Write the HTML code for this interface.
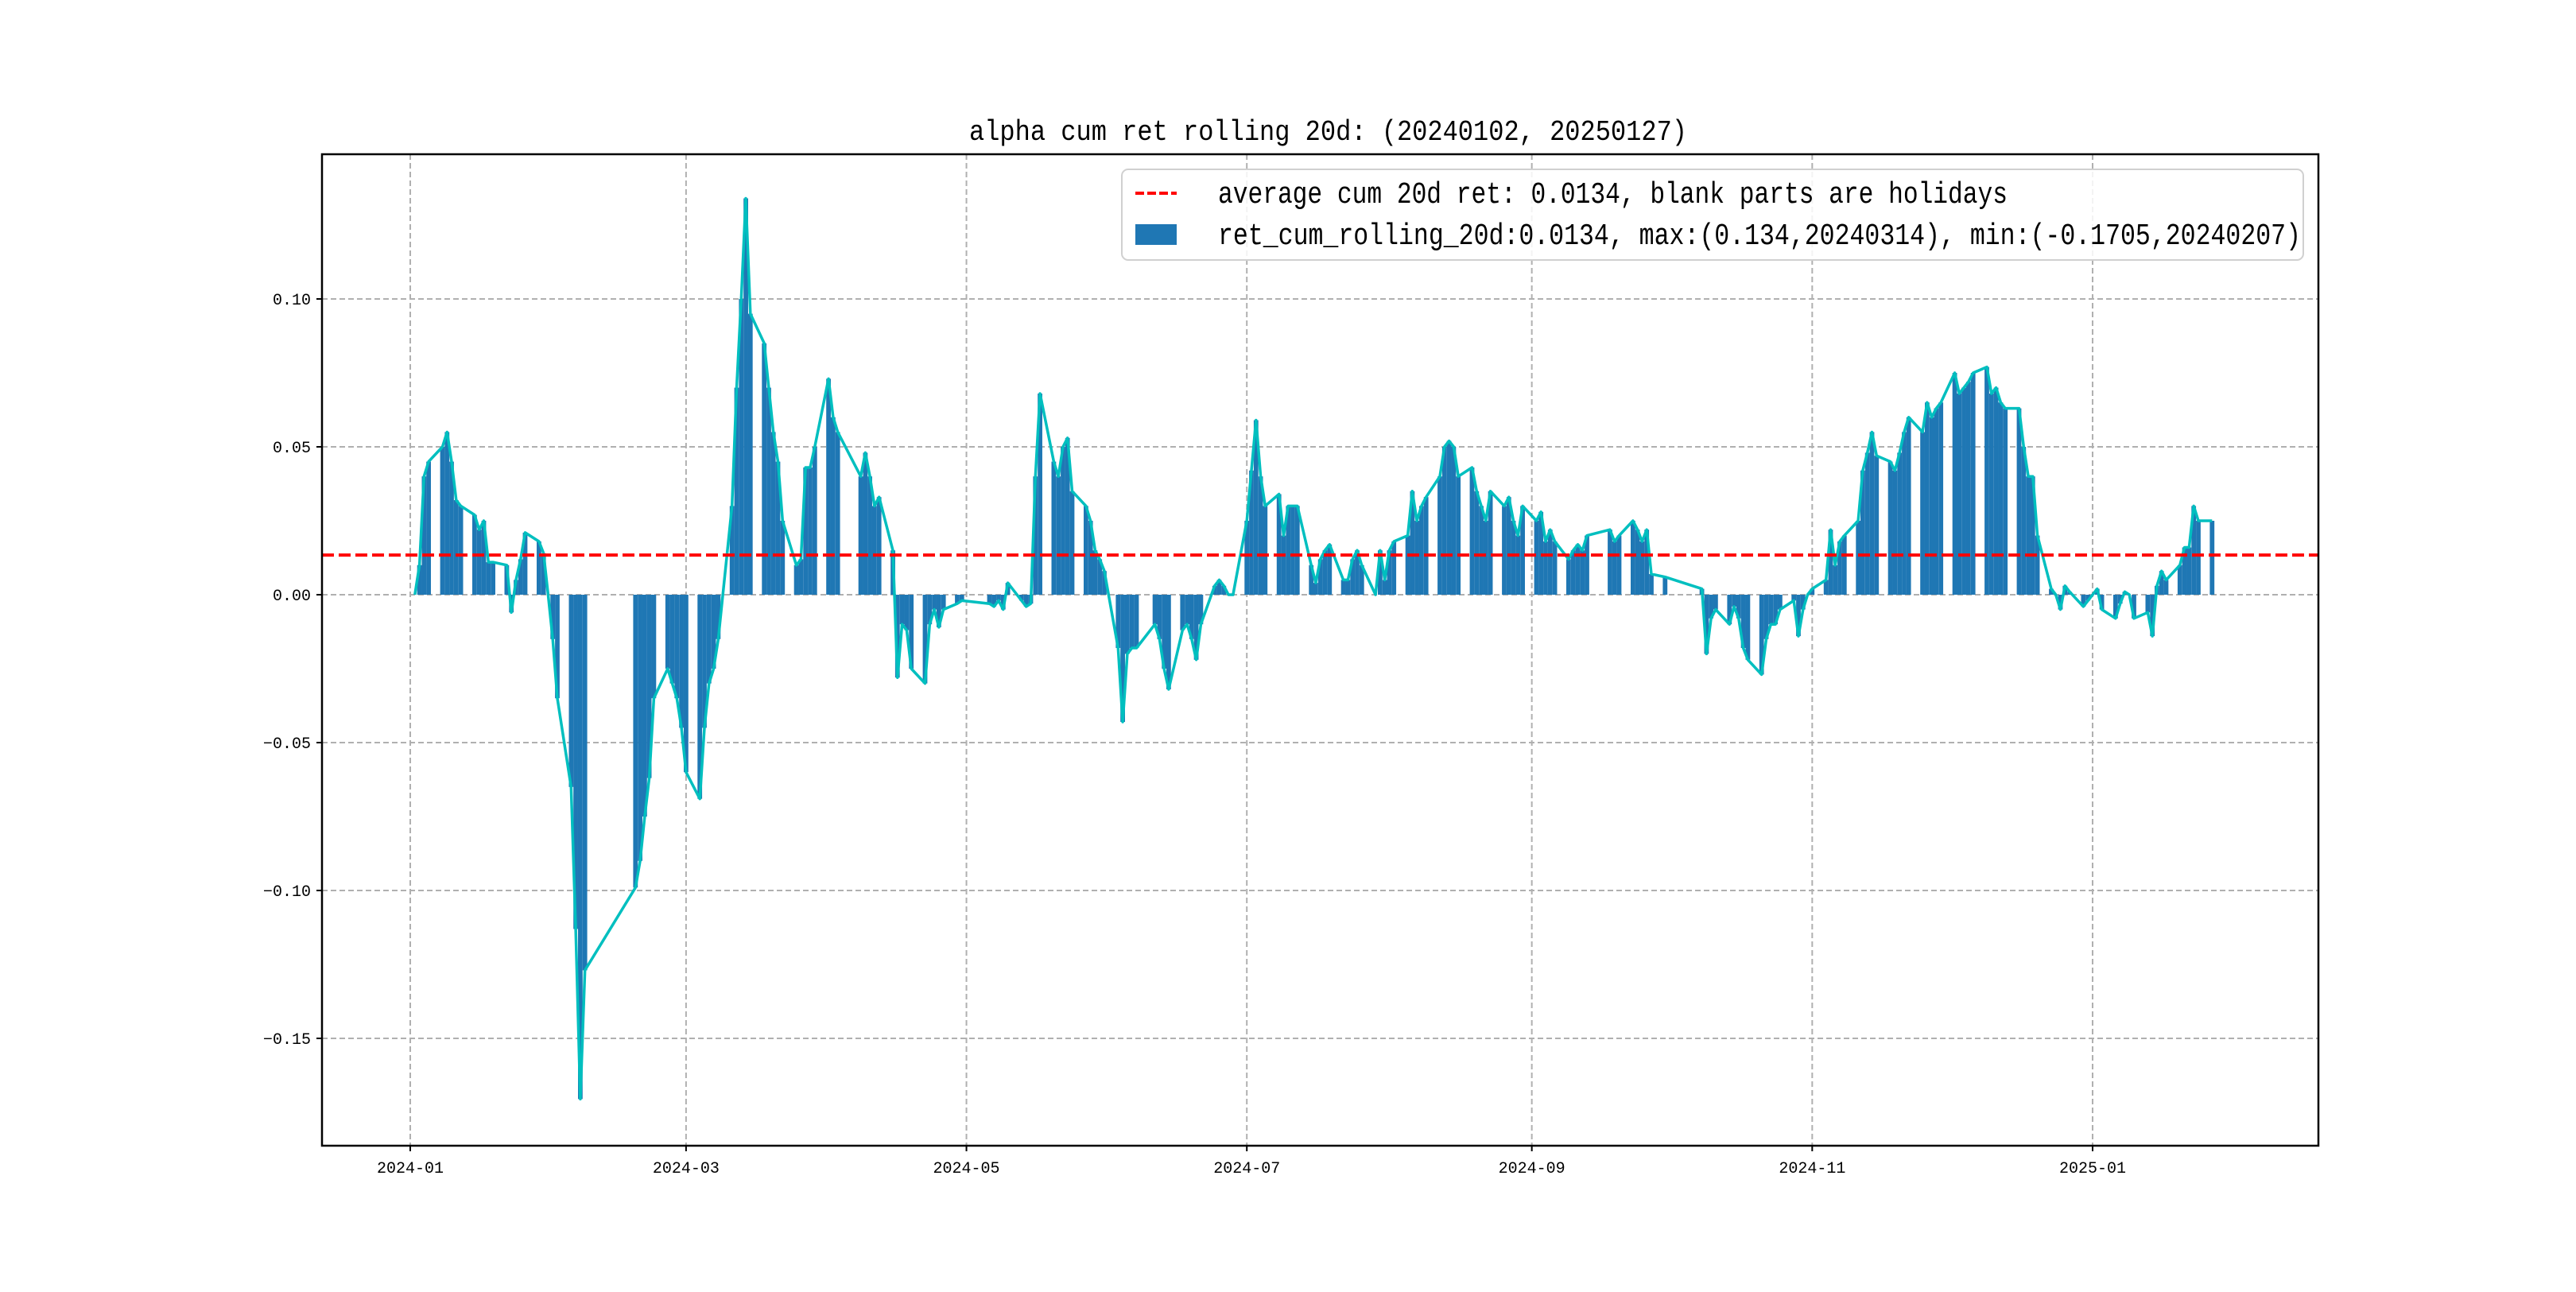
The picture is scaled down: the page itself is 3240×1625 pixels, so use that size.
<!DOCTYPE html>
<html><head><meta charset="utf-8"><style>
html,body{margin:0;padding:0;background:#fff;}
svg text{font-family:"Liberation Mono","Noto Sans CJK SC",monospace;}
</style></head><body>
<svg id="s" xmlns="http://www.w3.org/2000/svg" width="3240" height="1620" viewBox="0 0 3240 1620"></svg>
<script>
const raw=`2024-01-02 0;01-03 .01;01-04 .04;01-05 .045;01-08 .05;01-09 .055;01-10 .045;01-11 .032;01-12 .03;01-15 .027;01-16 .022;01-17 .025;01-18 .011;01-19 .011;01-22 .01;01-23 -.006;01-24 .005;01-25 .012;01-26 .021;01-29 .018;01-30 .014;01-31 0;02-01 -.015;02-02 -.035;02-05 -.065;02-06 -.113;02-07 -.1705;02-08 -.127;02-19 -.099;02-20 -.09;02-21 -.075;02-22 -.062;02-23 -.035;02-26 -.025;02-27 -.03;02-28 -.035;02-29 -.045;03-01 -.06;03-04 -.069;03-05 -.045;03-06 -.03;03-07 -.025;03-08 -.015;03-11 .03;03-12 .07;03-13 .1;03-14 .134;03-15 .095;03-18 .085;03-19 .07;03-20 .055;03-21 .045;03-22 .025;03-25 .01;03-26 .012;03-27 .043;03-28 .043;03-29 .05;04-01 .073;04-02 .06;04-03 .055;04-08 .04;04-09 .048;04-10 .04;04-11 .03;04-12 .033;04-15 .015;04-16 -.028;04-17 -.01;04-18 -.012;04-19 -.025;04-22 -.03;04-23 -.01;04-24 -.005;04-25 -.011;04-26 -.005;04-29 -.003;04-30 -.002;05-06 -.003;05-07 -.004;05-08 -.002;05-09 -.005;05-10 .004;05-13 -.002;05-14 -.004;05-15 -.003;05-16 .04;05-17 .068;05-20 .045;05-21 .04;05-22 .05;05-23 .053;05-24 .035;05-27 .03;05-28 .025;05-29 .015;05-30 .012;05-31 .008;06-03 -.018;06-04 -.043;06-05 -.02;06-06 -.018;06-07 -.018;06-11 -.01;06-12 -.015;06-13 -.025;06-14 -.032;06-17 -.012;06-18 -.01;06-19 -.015;06-20 -.022;06-21 -.01;06-24 .003;06-25 .005;06-26 .003;06-27 0;06-28 0;07-01 .025;07-02 .042;07-03 .059;07-04 .04;07-05 .03;07-08 .034;07-09 .02;07-10 .03;07-11 .03;07-12 .03;07-15 .01;07-16 .004;07-17 .012;07-18 .015;07-19 .017;07-22 .005;07-23 .005;07-24 .012;07-25 .015;07-26 .01;07-29 0;07-30 .015;07-31 .005;08-01 .015;08-02 .018;08-05 .02;08-06 .035;08-07 .025;08-08 .03;08-09 .033;08-12 .04;08-13 .05;08-14 .052;08-15 .05;08-16 .04;08-19 .043;08-20 .035;08-21 .03;08-22 .025;08-23 .035;08-26 .03;08-27 .033;08-28 .025;08-29 .02;08-30 .03;09-02 .025;09-03 .028;09-04 .018;09-05 .022;09-06 .018;09-09 .012;09-10 .015;09-11 .017;09-12 .015;09-13 .02;09-18 .022;09-19 .018;09-20 .02;09-23 .025;09-24 .022;09-25 .018;09-26 .022;09-27 .007;09-30 .006;10-08 .002;10-09 -.02;10-10 -.008;10-11 -.005;10-14 -.01;10-15 -.004;10-16 -.008;10-17 -.018;10-18 -.022;10-21 -.027;10-22 -.015;10-23 -.01;10-24 -.01;10-25 -.005;10-28 -.002;10-29 -.014;10-30 -.005;10-31 0;11-01 .002;11-04 .005;11-05 .022;11-06 .01;11-07 .018;11-08 .02;11-11 .025;11-12 .042;11-13 .048;11-14 .055;11-15 .047;11-18 .045;11-19 .042;11-20 .048;11-21 .055;11-22 .06;11-25 .055;11-26 .065;11-27 .06;11-28 .063;11-29 .065;12-02 .075;12-03 .068;12-04 .07;12-05 .072;12-06 .075;12-09 .077;12-10 .068;12-11 .07;12-12 .065;12-13 .063;12-16 .063;12-17 .05;12-18 .04;12-19 .04;12-20 .02;12-23 .002;12-24 0;12-25 -.005;12-26 .003;12-27 .001;12-30 -.004;12-31 -.002;2025-01-02 .002;01-03 -.005;01-06 -.008;01-07 -.003;01-08 .001;01-09 0;01-10 -.008;01-13 -.006;01-14 -.014;01-15 .003;01-16 .008;01-17 .005;01-20 .01;01-21 .016;01-22 .016;01-23 .03;01-24 .025;01-27 .025`;
const base=Date.UTC(2024,0,1),PD=5.7814,X0=516;
const xd=d=>X0+(d-base)/864e5*PD, yv=v=>748-3720*v;
let yr=2024,pts=[];
raw.split(';').forEach(s=>{let [d,v]=s.trim().split(' ');let p=d.split('-');if(p.length==3){yr=+p[0];p=p.slice(1);}pts.push([Date.UTC(yr,+p[0]-1,+p[1]),+v]);});
let h='';
const L=405,R=2916,T=194,B=1441;
[-0.15,-0.1,-0.05,0,0.05,0.1].forEach(v=>{const y=yv(v);h+=`<line x1="${L}" x2="${R}" y1="${y}" y2="${y}" stroke="#b0b0b0" stroke-width="2" stroke-dasharray="7,4"/>`;
h+=`<line x1="${L-7}" x2="${L}" y1="${y}" y2="${y}" stroke="#000" stroke-width="2"/>`;
h+=`<text x="${L-14}" y="${y+7}" font-size="20" text-anchor="end">${v<0?'\u2212':''}${Math.abs(v).toFixed(2)}</text>`;});
[[2024,0],[2024,2],[2024,4],[2024,6],[2024,8],[2024,10],[2025,0]].forEach(([a,m])=>{const x=xd(Date.UTC(a,m,1));h+=`<line x1="${x}" x2="${x}" y1="${T}" y2="${B}" stroke="#b0b0b0" stroke-width="2" stroke-dasharray="7,4"/>`;
h+=`<line x1="${x}" x2="${x}" y1="${B}" y2="${B+7}" stroke="#000" stroke-width="2"/>`;
h+=`<text x="${x}" y="${B+34}" font-size="20" text-anchor="middle">${a}-${String(m+1).padStart(2,'0')}</text>`;});
pts.forEach(([d,v])=>{const x=xd(d)-PD/2,y0=yv(0),y=yv(v);h+=`<rect x="${x.toFixed(1)}" y="${Math.min(y,y0).toFixed(1)}" width="${PD.toFixed(2)}" height="${Math.abs(y-y0).toFixed(1)}" fill="#1f77b4"/>`;});
h+=`<polyline fill="none" stroke="#00bfbf" stroke-width="3.5" stroke-linejoin="round" points="${pts.map(([d,v])=>xd(d).toFixed(1)+','+yv(v).toFixed(1)).join(' ')}"/>`;
const ya=yv(0.0134);
h+=`<line x1="${L}" x2="${R}" y1="${ya}" y2="${ya}" stroke="#ff0000" stroke-width="4" stroke-dasharray="15,6"/>`;
h+=`<rect x="${L}" y="${T}" width="${R-L}" height="${B-T}" fill="none" stroke="#000" stroke-width="2.5"/>`;
h+=`<text x="1219" y="176" font-size="36" textLength="903" lengthAdjust="spacingAndGlyphs">alpha cum ret rolling 20d: (20240102, 20250127)</text>`;
h+=`<rect x="1411" y="213" width="1486" height="114" rx="8" fill="#fff" fill-opacity="0.85" stroke="#d0d0d0" stroke-width="2"/>`;
h+=`<line x1="1428" x2="1480" y1="243" y2="243" stroke="#ff0000" stroke-width="4" stroke-dasharray="11,4"/>`;
h+=`<text x="1532" y="255" font-size="38" textLength="993" lengthAdjust="spacingAndGlyphs">average cum 20d ret: 0.0134, blank parts are holidays</text>`;
h+=`<rect x="1428" y="282" width="52" height="26" fill="#1f77b4"/>`;
h+=`<text x="1532" y="307" font-size="38" textLength="1362" lengthAdjust="spacingAndGlyphs">ret_cum_rolling_20d:0.0134, max:(0.134,20240314), min:(-0.1705,20240207)</text>`;
document.getElementById('s').innerHTML=h;
</script>
</body></html>
